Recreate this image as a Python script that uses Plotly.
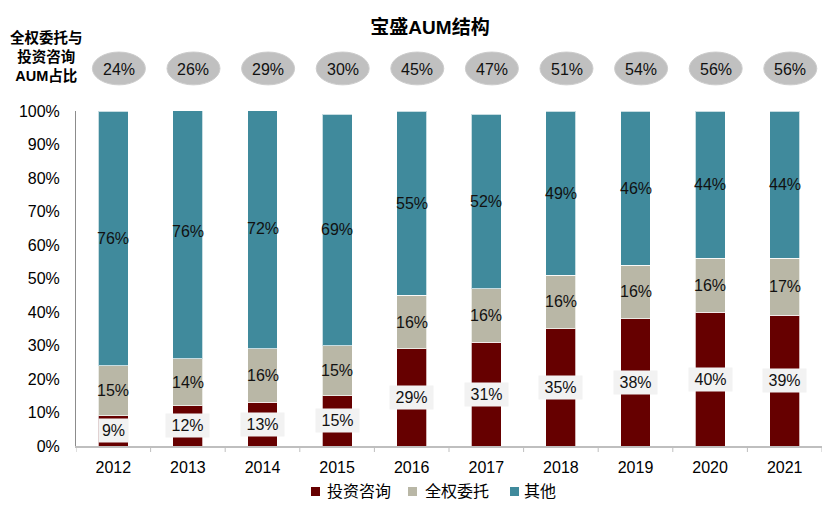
import plotly.graph_objects as go

years = ["2012", "2013", "2014", "2015", "2016", "2017", "2018", "2019", "2020", "2021"]
invest_advisory = [9, 12, 13, 15, 29, 31, 35, 38, 40, 39]      # 投资咨询
discretionary = [15, 14, 16, 15, 16, 16, 16, 16, 16, 17]       # 全权委托
others = [76, 76, 72, 69, 55, 52, 49, 46, 44, 44]              # 其他
combined_share = [24, 26, 29, 30, 45, 47, 51, 54, 56, 56]      # 全权委托与投资咨询AUM占比
series_names = ["投资咨询", "全权委托", "其他"]
y_ticks = [0, 10, 20, 30, 40, 50, 60, 70, 80, 90, 100]

colors = ["#660000", "#b9b7a6", "#408a9c"]
FONT = "Liberation Sans, Arial, Noto Sans CJK SC, sans-serif"
TXT = "#111111"
xpos = list(range(len(years)))

# page offset (body margin of the html page)
OFF = 8
FIG_W, FIG_H = 833 - OFF, 518 - OFF

fig = go.Figure()
for name, vals, col in zip(series_names, [invest_advisory, discretionary, others], colors):
    fig.add_trace(go.Bar(
        x=xpos, y=vals, name=name, marker_color=col,
        marker_line=dict(color="rgba(255,255,255,0.7)", width=1),
        showlegend=False,
    ))

annotations = []
shapes = []
for i in xpos:
    a, b, c = invest_advisory[i], discretionary[i], others[i]
    nd = len(str(a))
    annotations.append(dict(x=i, y=a / 2, xref="x", yref="y", text=f"{a}%", showarrow=False,
                            bgcolor="#f2f2f2", borderpad=3, width=14 * nd + 9,
                            font=dict(size=16, color=TXT, family=FONT)))
    annotations.append(dict(x=i, y=a + b / 2, xref="x", yref="y", text=f"{b}%", showarrow=False,
                            font=dict(size=16, color=TXT, family=FONT)))
    annotations.append(dict(x=i, y=a + b + c / 2, xref="x", yref="y", text=f"{c}%", showarrow=False,
                            font=dict(size=16, color=TXT, family=FONT)))
    shapes.append(dict(type="circle", xref="x", yref="paper",
                       x0=i - 0.28, x1=i + 0.43, y0=1.078, y1=1.176,
                       fillcolor="#c0c0c0", line=dict(color="#cccccc", width=1), layer="above"))
    annotations.append(dict(x=i + 0.075, y=1.123, xref="x", yref="paper", text=f"{combined_share[i]}%",
                            showarrow=False, yanchor="middle", xanchor="center",
                            font=dict(size=16, color=TXT, family=FONT)))

annotations.append(dict(x=-0.04, y=1.164, xref="paper", yref="paper",
                        text="<b>全权委托与<br>投资咨询<br>AUM占比</b>", showarrow=False,
                        align="center", xanchor="center", yanchor="middle",
                        font=dict(size=14.5, color="#000", family=FONT)))

# manual legend (page pixel layout)
leg_sq = [(311, 320), (408, 417), (510, 519)]
leg_tx = [325, 423, 522]
W, L, T, B = 746, 76, 111, 446
for (x0, x1), tx, name, col in zip(leg_sq, leg_tx, series_names, colors):
    shapes.append(dict(type="rect", xref="paper", yref="paper",
                       x0=(x0 - L) / W, x1=(x1 - L) / W,
                       y0=(B - 496) / (B - T), y1=(B - 487) / (B - T),
                       fillcolor=col, line=dict(width=0)))
    annotations.append(dict(x=(tx - L) / W, y=(B - 491) / (B - T), xref="paper", yref="paper",
                            text=name, showarrow=False, xanchor="left", yanchor="middle",
                            font=dict(size=16, color="#000", family=FONT)))

# tick marks at category boundaries (grey, below axis)
for k in range(len(years) + 1):
    shapes.append(dict(type="line", xref="x", yref="paper", x0=k - 0.5, x1=k - 0.5,
                       y0=0, y1=-6 / (B - T), line=dict(color="#bfbfbf", width=1)))

fig.update_layout(
    width=FIG_W, height=FIG_H,
    margin=dict(l=L - OFF, r=833 - 822, t=T - OFF, b=518 - B),
    paper_bgcolor="white", plot_bgcolor="white",
    barmode="stack", bargap=0.6,
    title=dict(text="<b>宝盛AUM结构</b>", x=(430 - OFF) / FIG_W, xanchor="center",
               y=1 - (27 - OFF) / FIG_H, yanchor="middle",
               font=dict(size=19, color="#000", family=FONT)),
    font=dict(family=FONT, color="#000"),
    annotations=annotations, shapes=shapes,
    xaxis=dict(range=[-0.5, 9.5], tickvals=xpos, ticktext=years, showline=True,
               linecolor="#bfbfbf", linewidth=2, ticks="", showgrid=False, zeroline=False,
               ticklabelstandoff=6,
               tickfont=dict(size=16, color="#000", family=FONT)),
    yaxis=dict(range=[0, 100], tickvals=y_ticks, ticktext=[f"{v}%" for v in y_ticks], showline=True,
               linecolor="#8c8c8c", linewidth=1, ticks="outside", ticklen=12,
               tickcolor="rgba(0,0,0,0)", showgrid=False, zeroline=False,
               tickfont=dict(size=16, color="#000", family=FONT)),
)

fig.write_html("out.html")
